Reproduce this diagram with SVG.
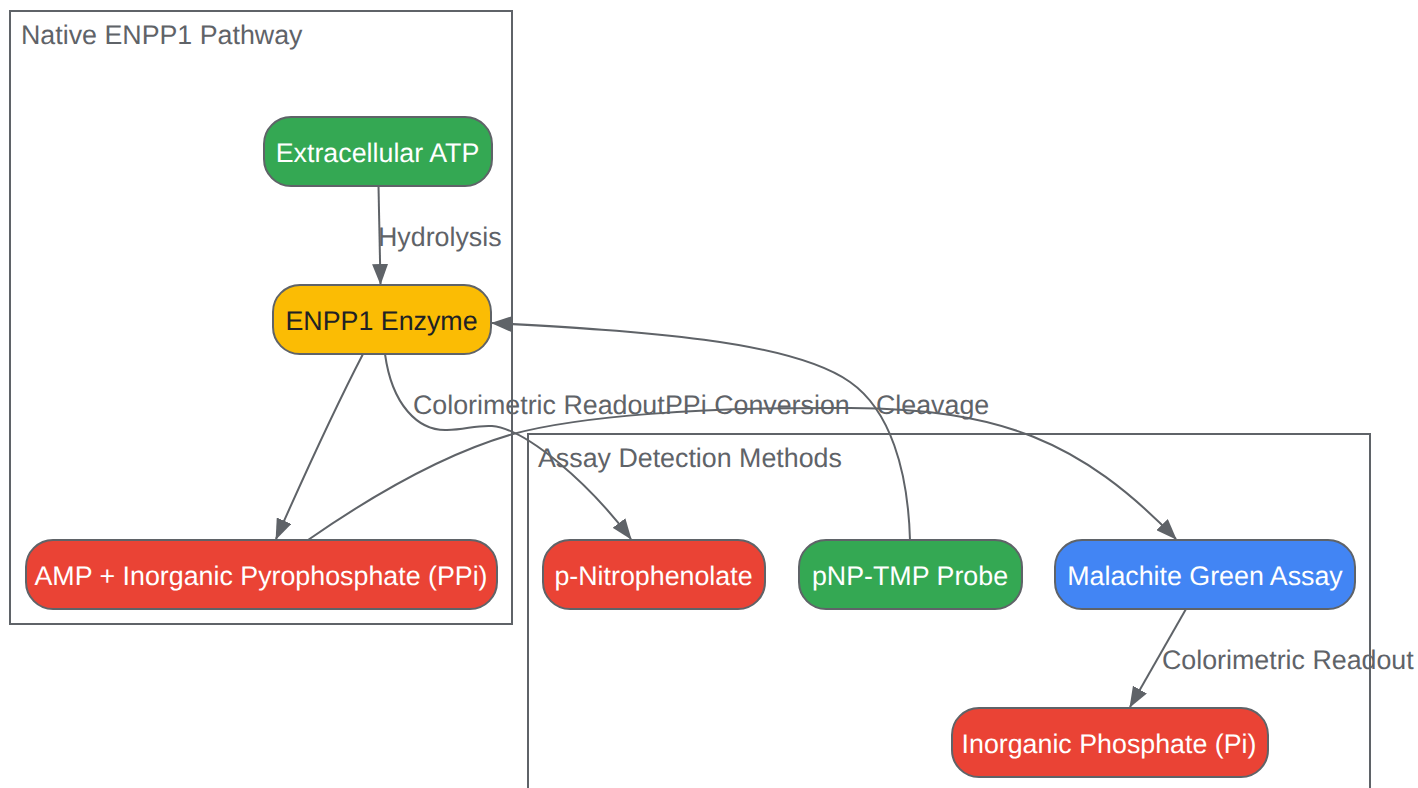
<svg xmlns="http://www.w3.org/2000/svg" width="1418" height="788" viewBox="0 0 1418 788">
<style>
text{font-family:"Liberation Sans",Arial,sans-serif;font-size:26.8px;text-rendering:geometricPrecision}
.c{fill:none;stroke:#5f6368;stroke-width:2}
.e{fill:none;stroke:#5f6368;stroke-width:2}
.n{stroke:#5f6368;stroke-width:2}
.l{fill:#5f6368}
.w{fill:#fff;text-anchor:middle}
.d{fill:#202124;text-anchor:middle}
</style>
<defs><marker id="b" viewBox="0 0 21 16" refX="20" refY="8" markerWidth="21" markerHeight="16" markerUnits="userSpaceOnUse" orient="auto"><path d="M0 0L21 8L0 16z" fill="#5f6368"/></marker></defs>
<g id="clusters">
<rect class="c" x="10" y="11" width="502" height="613"/>
<text class="l" x="21" y="44">Native ENPP1 Pathway</text>
<path class="c" d="M528 788V434H1370V788"/>
<text class="l" x="538" y="467">Assay Detection Methods</text>
</g>
<g id="connectors">
<path class="e" marker-end="url(#b)" d="M378.500 186L380.500 284"/>
<path class="e" marker-end="url(#b)" d="M363 354C335 408 303 478 276 539"/>
<path class="e" marker-end="url(#b)" d="M385 354C392 405 418 431 447 430C465 430 475 425 492 426C526 429 588 482 631 539"/>
<path class="e" marker-end="url(#b)" d="M910 540C908 470 890 410 850 382C790 340 640 331 492 323"/>
<path class="e" marker-end="url(#b)" d="M308 540C380 490 450 452 513 434C580 416 700 407 850 408C1000 409 1080 440 1176 539"/>
<path class="e" marker-end="url(#b)" d="M1186 609L1130 707"/>
<text class="l" x="378" y="246">Hydrolysis</text>
<text class="l" x="413" y="414">Colorimetric Readout</text>
<text class="l" x="665" y="414">PPi Conversion</text>
<text class="l" x="876" y="414">Cleavage</text>
<text class="l" x="1162" y="669">Colorimetric Readout</text>
</g>
<g id="atp"><rect class="n" fill="#34a853" x="264" y="117" width="228" height="69" rx="27"/><text class="w" x="377.500" y="162">Extracellular ATP</text></g>
<g id="enpp1"><rect class="n" fill="#fbbc04" x="273" y="285" width="218" height="69" rx="27"/><text class="d" x="381.500" y="330">ENPP1 Enzyme</text></g>
<g id="amp"><rect class="n" fill="#ea4335" x="26" y="540" width="471" height="69" rx="27"/><text class="w" x="261" y="585">AMP + Inorganic Pyrophosphate (PPi)</text></g>
<g id="pnp"><rect class="n" fill="#ea4335" x="543" y="540" width="222" height="69" rx="27"/><text class="w" x="653.500" y="585">p-Nitrophenolate</text></g>
<g id="probe"><rect class="n" fill="#34a853" x="799" y="540" width="223" height="69" rx="27"/><text class="w" x="910" y="585">pNP-TMP Probe</text></g>
<g id="malachite"><rect class="n" fill="#4285f4" x="1055" y="540" width="300" height="69" rx="27"/><text class="w" x="1205" y="585">Malachite Green Assay</text></g>
<g id="pi"><rect class="n" fill="#ea4335" x="952" y="708" width="316" height="69" rx="27"/><text class="w" x="1109" y="753">Inorganic Phosphate (Pi)</text></g>
</svg>
